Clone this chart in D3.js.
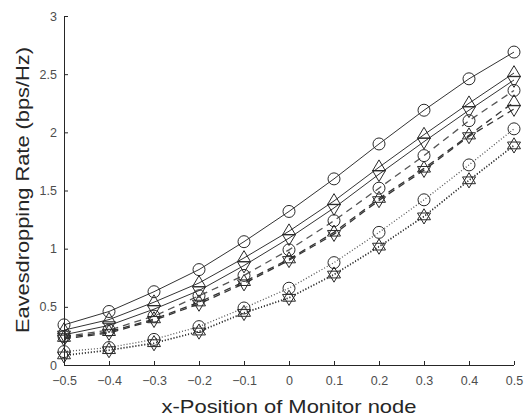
<!DOCTYPE html>
<html>
<head>
<meta charset="utf-8">
<script src="https://d3js.org/d3.v7.min.js"></script>
<style>
  body { margin: 0; background: #fff; }
  svg { display: block; }
  text { font-family: "Liberation Sans", Arial, sans-serif; }
</style>
</head>
<body>
<svg width="525" height="417"></svg>
<script>
// x positions of the monitor node
var xPos = [-0.5, -0.4, -0.3, -0.2, -0.1, 0, 0.1, 0.2, 0.3, 0.4, 0.5]

// solid group
var solidCircle = [0.345, 0.46, 0.63, 0.82, 1.06, 1.32, 1.60, 1.90, 2.19, 2.46, 2.69]
var solidUp     = [0.30, 0.39, 0.54, 0.705, 0.92, 1.15, 1.41, 1.70, 1.98, 2.25, 2.51]
var solidDown   = [0.26, 0.34, 0.48, 0.64, 0.855, 1.09, 1.35, 1.64, 1.92, 2.19, 2.45]

// dashed group
var dashCircle = [0.245, 0.30, 0.42, 0.595, 0.77, 0.99, 1.24, 1.52, 1.80, 2.10, 2.36]
var dashUp     = [0.235, 0.285, 0.395, 0.54, 0.715, 0.91, 1.14, 1.43, 1.69, 1.975, 2.26]
var dashDown   = [0.225, 0.275, 0.385, 0.525, 0.70, 0.90, 1.125, 1.415, 1.675, 1.965, 2.20]

// dotted group
var dotCircle = [0.115, 0.15, 0.22, 0.33, 0.49, 0.66, 0.88, 1.14, 1.42, 1.72, 2.03]
var dotUp     = [0.085, 0.13, 0.19, 0.29, 0.45, 0.58, 0.78, 1.02, 1.28, 1.59, 1.89]
var dotDown   = [0.08, 0.125, 0.185, 0.285, 0.445, 0.575, 0.775, 1.015, 1.275, 1.585, 1.885]

var xTicks = [-0.5, -0.4, -0.3, -0.2, -0.1, 0, 0.1, 0.2, 0.3, 0.4, 0.5]
var yTicks = [0, 0.5, 1, 1.5, 2, 2.5, 3]

var svg = d3.select('svg')
var x = d3.scaleLinear().domain([-0.5, 0.5]).range([64, 514])
var y = d3.scaleLinear().domain([0, 3]).range([365, 16])

var ink = '#262626'

// triangle markers anchored at their centroid
var TH = 11, TW = 6.5
var triUp = {
  draw: function(ctx) {
    ctx.moveTo(0, -2 * TH / 3); ctx.lineTo(TW, TH / 3); ctx.lineTo(-TW, TH / 3); ctx.closePath()
  }
}
var triDown = {
  draw: function(ctx) {
    ctx.moveTo(0, 2 * TH / 3); ctx.lineTo(TW, -TH / 3); ctx.lineTo(-TW, -TH / 3); ctx.closePath()
  }
}
var circ = {
  draw: function(ctx) {
    ctx.moveTo(6, 0); ctx.arc(0, 0, 6, 0, 2 * Math.PI)
  }
}

var series = [
  { values: solidCircle, dash: null, marker: circ, color: '#333' },
  { values: solidUp, dash: null, marker: triUp, color: '#333' },
  { values: solidDown, dash: null, marker: triDown, color: '#333' },
  { values: dashCircle, dash: '7,5', marker: circ, color: '#555' },
  { values: dashUp, dash: '7,5', marker: triUp, color: '#333' },
  { values: dashDown, dash: '7,5', marker: triDown, color: '#333' },
  { values: dotCircle, dash: '1,2', marker: circ, color: '#555' },
  { values: dotUp, dash: '1,2', marker: triUp, color: '#333' },
  { values: dotDown, dash: '1,2', marker: triDown, color: '#333' }
]

var line = d3.line()
  .x(function(d, i) { return x(xPos[i]) })
  .y(function(d) { return y(d) })

var plot = svg.append('g')

series.forEach(function(s) {
  plot.append('path')
    .attr('d', line(s.values))
    .attr('fill', 'none')
    .attr('stroke', s.color)
    .attr('stroke-width', s.dash ? 1.3 : 1)
    .attr('stroke-dasharray', s.dash)

  plot.selectAll(null)
    .data(s.values)
    .enter()
    .append('path')
    .attr('d', d3.symbol().type(s.marker)())
    .attr('transform', function(d, i) { return 'translate(' + x(xPos[i]) + ',' + y(d) + ')' })
    .attr('fill', 'none')
    .attr('stroke', '#2a2a2a')
    .attr('stroke-width', 1)
})

// axes: ticks point inward, no box
var xAxis = svg.append('g')
  .attr('transform', 'translate(0,365)')
  .call(d3.axisBottom(x).tickValues(xTicks).tickSize(-4).tickPadding(11)
    .tickFormat(function(d) { return d === 0 ? '0' : d3.format('.1f')(d) }))
var yAxis = svg.append('g')
  .attr('transform', 'translate(64,0)')
  .call(d3.axisLeft(y).tickValues(yTicks).tickSize(-4).tickPadding(7)
    .tickFormat(function(d) { return String(d) }))

;[xAxis, yAxis].forEach(function(a) {
  a.selectAll('.tick line').attr('stroke', ink)
  a.selectAll('.tick text').attr('fill', '#4d4d4d').style('font-size', '12.5px')
  a.select('.domain').attr('stroke', ink)
})
xAxis.select('.domain').attr('d', 'M64,0.5H514')
yAxis.select('.domain').attr('d', 'M0.5,16V365')

svg.append('text')
  .attr('x', 289)
  .attr('y', 413)
  .attr('text-anchor', 'middle')
  .attr('fill', '#262626')
  .attr('textLength', 255)
  .attr('lengthAdjust', 'spacingAndGlyphs')
  .style('font-size', '19px')
  .text('x-Position of Monitor node')

svg.append('text')
  .attr('transform', 'translate(29,190) rotate(-90)')
  .attr('text-anchor', 'middle')
  .attr('fill', '#262626')
  .attr('textLength', 286)
  .attr('lengthAdjust', 'spacingAndGlyphs')
  .style('font-size', '19px')
  .text('Eavesdropping Rate (bps/Hz)')
</script>
</body>
</html>
